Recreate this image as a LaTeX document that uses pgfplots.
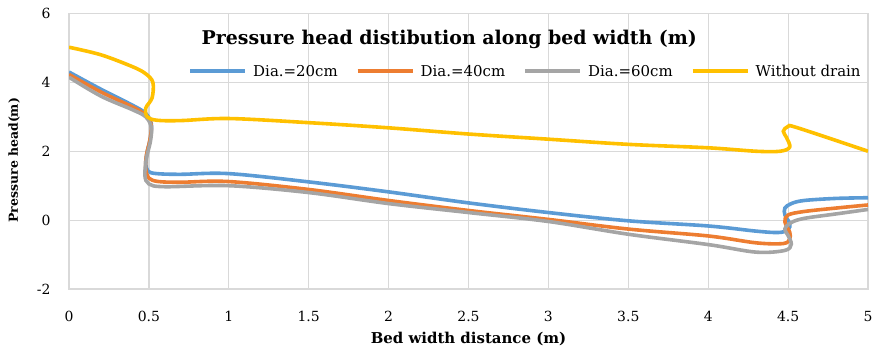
\documentclass[border=0pt]{standalone}
\usepackage{pgfplots}
\pgfplotsset{compat=1.18}
\usepackage{fontspec}
\setmainfont{DejaVu Serif}
\usetikzlibrary{calc}
\definecolor{cblue}{HTML}{5B9BD5}
\definecolor{corange}{HTML}{ED7D31}
\definecolor{cgray}{HTML}{A5A5A5}
\definecolor{cyellow}{HTML}{FFC000}
\definecolor{gridc}{HTML}{D9D9D9}
\begin{document}
\begin{tikzpicture}
\begin{axis}[name=ax, scale only axis, width=799bp, height=275.5bp,
  xmin=0, xmax=5, ymin=-2, ymax=6,
  xtick={0,0.5,1,1.5,2,2.5,3,3.5,4,4.5,5}, ytick={-2,0,2,4,6},
  grid=major, major grid style={draw=gridc, line width=1.2bp},
  axis line style={draw=gridc, line width=1.2bp},
  major tick length=0pt,
  /pgf/number format/assume math mode=true,
  tick label style={font=\fontsize{14}{16}\selectfont},
  xticklabel style={yshift=-19bp},
  yticklabel style={xshift=-15bp},
  legend columns=4,
  legend cell align=left,
  legend style={at={(axis cs:0.745,4.32)}, anchor=west, draw=none, fill=none,
    font=\fontsize{15}{17}\selectfont, inner sep=0pt,
    /tikz/every even column/.append style={column sep=16bp},
    /tikz/every odd column/.append style={column sep=4bp}},
  legend image code/.code={\draw[#1, line width=4bp] (0bp,0bp) -- (55bp,0bp);},
  every axis plot/.append style={line width=3.6bp, smooth, tension=0.55},
]
\addplot[cblue] coordinates {
(0,4.3) (0.2,3.8) (0.4,3.33) (0.48,3.1) (0.515,2.8) (0.51,2.4) (0.49,2.0) (0.48,1.65) (0.495,1.42) (0.55,1.35) (0.7,1.33) (1.0,1.35) (1.5,1.11) (2.0,0.82) (2.5,0.5) (3.0,0.22) (3.5,-0.02) (4.0,-0.17) (4.3,-0.32) (4.44,-0.36) (4.5,-0.28) (4.51,-0.1) (4.48,0.15) (4.48,0.35) (4.52,0.48) (4.6,0.57) (4.8,0.63) (5.0,0.65)
};
\addlegendentry{Dia.=20cm}
\addplot[corange] coordinates {
(0,4.23) (0.2,3.72) (0.4,3.28) (0.48,3.05) (0.515,2.75) (0.505,2.3) (0.485,1.9) (0.48,1.5) (0.5,1.22) (0.56,1.12) (0.7,1.1) (1.0,1.12) (1.5,0.89) (2.0,0.57) (2.5,0.28) (3.0,0.02) (3.5,-0.26) (4.0,-0.46) (4.3,-0.66) (4.47,-0.68) (4.51,-0.55) (4.51,-0.35) (4.48,-0.05) (4.5,0.15) (4.6,0.25) (4.8,0.35) (5.0,0.44)
};
\addlegendentry{Dia.=40cm}
\addplot[cgray] coordinates {
(0,4.15) (0.2,3.6) (0.4,3.2) (0.48,3.0) (0.515,2.7) (0.51,2.3) (0.485,1.8) (0.475,1.3) (0.5,1.05) (0.6,0.97) (1.0,1.0) (1.5,0.8) (2.0,0.48) (2.5,0.22) (3.0,-0.04) (3.5,-0.41) (4.0,-0.71) (4.3,-0.93) (4.48,-0.88) (4.52,-0.7) (4.5,-0.45) (4.48,-0.25) (4.52,-0.07) (4.6,0.05) (4.8,0.18) (5.0,0.31)
};
\addlegendentry{Dia.=60cm}
\addplot[cyellow] coordinates {
(0,5.02) (0.2,4.8) (0.4,4.45) (0.48,4.25) (0.525,4.0) (0.52,3.55) (0.48,3.25) (0.49,3.0) (0.55,2.9) (0.7,2.89) (1.0,2.95) (1.5,2.83) (2.0,2.68) (2.5,2.5) (3.0,2.35) (3.5,2.2) (4.0,2.1) (4.3,2.0) (4.45,2.0) (4.51,2.12) (4.49,2.4) (4.47,2.58) (4.5,2.72) (4.56,2.68) (5.0,2.0)
};
\addlegendentry{Without drain}
\node[font=\bfseries\fontsize{19}{21}\selectfont] at (axis cs:2.38,5.25) {Pressure head distibution along bed width (m)};
\end{axis}
\node[font=\bfseries\fontsize{12.5}{14}\selectfont, rotate=90] at ([xshift=-55bp,yshift=-9bp]ax.west) {Pressure head(m)};
\node[font=\bfseries\fontsize{15}{17}\selectfont] at ([yshift=-50bp]ax.south) {Bed width distance (m)};
\pgfresetboundingbox
\path ($(ax.south west)+(-69bp,-67bp)$) rectangle ($(ax.north east)+(6bp,13.5bp)$);
\end{tikzpicture}
\end{document}
